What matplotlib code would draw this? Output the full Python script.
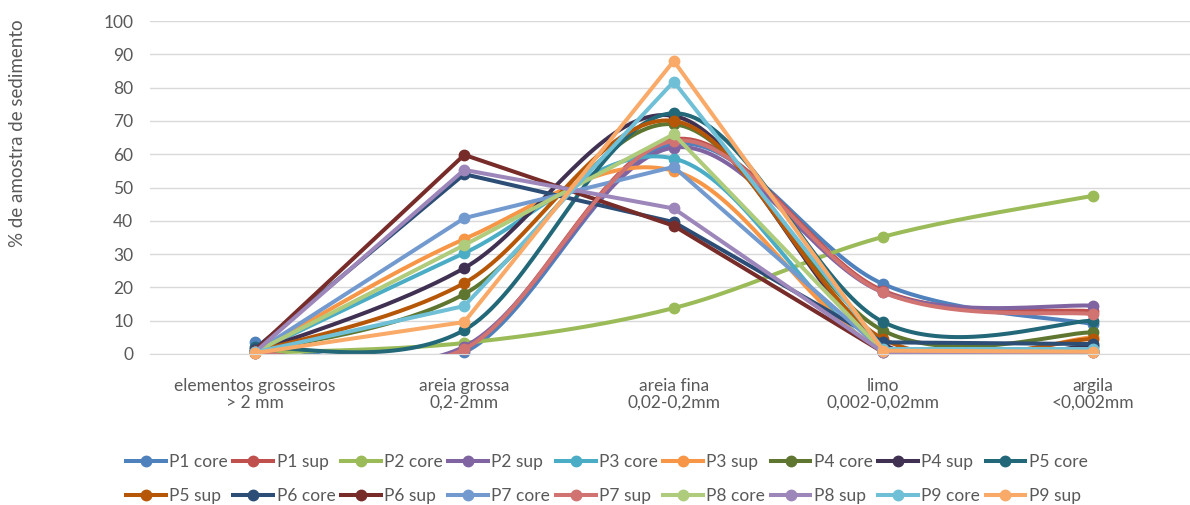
import numpy as np
import matplotlib
matplotlib.use("Agg")
import matplotlib.pyplot as plt
from matplotlib.lines import Line2D

plt.rcParams["font.family"] = ["Lato", "DejaVu Sans"]

# ── Data ──────────────────────────────────────────────────
categories = [
    "elementos grosseiros\n> 2 mm",
    "areia grossa\n0,2-2mm",
    "areia fina\n0,02-0,2mm",
    "limo\n0,002-0,02mm",
    "argila\n<0,002mm",
]

series_names = [
    "P1 core", "P1 sup", "P2 core", "P2 sup", "P3 core", "P3 sup",
    "P4 core", "P4 sup", "P5 core", "P5 sup", "P6 core", "P6 sup",
    "P7 core", "P7 sup", "P8 core", "P8 sup", "P9 core", "P9 sup",
]

p1_core = [3.5, 0.5, 63.0, 21.0, 9.0]
p1_sup = [0.5, 1.5, 64.5, 19.0, 12.8]
p2_core = [0.3, 3.3, 13.8, 35.2, 47.5]
p2_sup = [0.2, 2.2, 62.0, 18.5, 14.5]
p3_core = [0.5, 30.3, 58.7, 1.0, 1.0]
p3_sup = [0.5, 34.5, 55.0, 1.5, 5.0]
p4_core = [0.5, 18.0, 69.0, 7.0, 6.5]
p4_sup = [0.5, 25.8, 71.5, 3.0, 2.5]
p5_core = [2.0, 7.2, 72.3, 9.6, 10.0]
p5_sup = [0.5, 21.3, 70.0, 4.5, 4.5]
p6_core = [1.5, 54.0, 39.6, 3.5, 3.0]
p6_sup = [1.0, 59.8, 38.5, 0.5, 0.5]
p7_core = [0.5, 40.8, 56.2, 1.0, 1.0]
p7_sup = [0.3, 1.5, 64.0, 18.5, 12.0]
p8_core = [0.5, 32.7, 66.0, 0.8, 0.8]
p8_sup = [0.5, 55.3, 43.7, 0.5, 0.5]
p9_core = [0.5, 14.4, 81.8, 1.5, 1.5]
p9_sup = [0.3, 9.6, 88.0, 1.0, 0.7]

series_values = [
    p1_core, p1_sup, p2_core, p2_sup, p3_core, p3_sup,
    p4_core, p4_sup, p5_core, p5_sup, p6_core, p6_sup,
    p7_core, p7_sup, p8_core, p8_sup, p9_core, p9_sup,
]

# ── Style ─────────────────────────────────────────────────
colors = [
    "#4F81BD", "#C0504D", "#9BBB59", "#8064A2", "#4BACC6", "#F79646",
    "#5E7630", "#403152", "#226878", "#B65708", "#2C4D75", "#772C2A",
    "#739ACF", "#D07371", "#AFCB7C", "#9C86BA", "#6FC0D6", "#F9AA68",
]
smoothed = [
    True, True, True, True, True, True,
    True, True, True, True, False, False,
    False, True, False, False, False, False,
]


def smooth_curve(xs, ys, n=40):
    """Excel-like smoothed line: Catmull-Rom converted to cubic Bezier."""
    pts = np.column_stack([xs, ys]).astype(float)
    ext = np.vstack([pts[0], pts, pts[-1]])
    out = []
    t = np.linspace(0, 1, n)[:, None]
    for i in range(len(pts) - 1):
        p0, p1, p2, p3 = ext[i], ext[i + 1], ext[i + 2], ext[i + 3]
        c1 = p1 + (p2 - p0) / 6
        c2 = p2 - (p3 - p1) / 6
        seg = ((1 - t) ** 3) * p1 + 3 * ((1 - t) ** 2) * t * c1 \
            + 3 * (1 - t) * t ** 2 * c2 + t ** 3 * p2
        out.append(seg if i == 0 else seg[1:])
    out = np.vstack(out)
    return out[:, 0], out[:, 1]


fig = plt.figure(figsize=(11.9, 5.05), dpi=100)
ax = fig.add_axes([150 / 1190, 1 - 354 / 505, 1047.5 / 1190, 333 / 505])

x = np.arange(len(categories))
for name, vals, col, sm in zip(series_names, series_values, colors, smoothed):
    if sm:
        xs, ys = smooth_curve(x, vals)
    else:
        xs, ys = x, vals
    ax.plot(xs, ys, color=col, lw=2.9, solid_capstyle="round",
            solid_joinstyle="round", clip_on=True)
    ax.plot(x, vals, "o", color=col, ms=7.5, clip_on=False)

ax.set_xlim(-0.5, len(categories) - 0.5)
ax.set_ylim(0, 100)
ax.set_yticks(np.arange(0, 101, 10))
ax.set_xticks(x)
ax.set_xticklabels(categories, fontsize=12.5, color="#595959", linespacing=1.1)
ax.tick_params(axis="y", labelsize=12.5, labelcolor="#595959", length=0, pad=12)
ax.tick_params(axis="x", length=0, pad=17)
ax.grid(axis="y", color="#D9D9D9", lw=1.0)
ax.set_axisbelow(True)
for s in ["top", "right", "left"]:
    ax.spines[s].set_visible(False)
ax.spines["bottom"].set_color("#D9D9D9")

fig.text(18 / 1190, 1 - 133 / 505, "% de amostra de sedimento", rotation=90,
         ha="center", va="center", fontsize=13.5, color="#595959")

# legend fills column-wise; reorder so entries run row by row like Excel
ncol = 9
order = [j + r * ncol for j in range(ncol) for r in range(2)]
handles = [Line2D([0], [0], color=colors[i], lw=2.9, marker="o", ms=7.5)
           for i in order]
labels = [series_names[i] for i in order]
fig.legend(handles, labels, loc="center", ncol=ncol,
           bbox_to_anchor=(0.51, 1 - 479 / 505), frameon=False,
           fontsize=12.5, labelcolor="#595959", handlelength=2.3,
           handletextpad=0.2, columnspacing=0.3, labelspacing=1.05)

fig.savefig("out.png", dpi=100)
